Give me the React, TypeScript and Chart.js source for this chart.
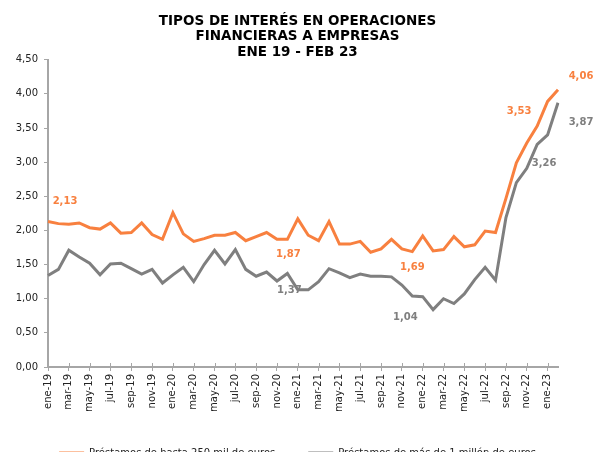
import React, { useEffect, useRef } from "react";
import { Chart, registerables } from "chart.js";

Chart.register(...registerables);

const categories: string[] = [
  "ene-19", "feb-19", "mar-19", "abr-19", "may-19", "jun-19", "jul-19", "ago-19", "sep-19", "oct-19", "nov-19", "dic-19",
  "ene-20", "feb-20", "mar-20", "abr-20", "may-20", "jun-20", "jul-20", "ago-20", "sep-20", "oct-20", "nov-20", "dic-20",
  "ene-21", "feb-21", "mar-21", "abr-21", "may-21", "jun-21", "jul-21", "ago-21", "sep-21", "oct-21", "nov-21", "dic-21",
  "ene-22", "feb-22", "mar-22", "abr-22", "may-22", "jun-22", "jul-22", "ago-22", "sep-22", "oct-22", "nov-22", "dic-22",
  "ene-23", "feb-23",
];

const smallLoans: number[] = [
  2.13, 2.10, 2.09, 2.11, 2.04, 2.02, 2.11, 1.96, 1.97, 2.11,
  1.94, 1.87, 2.26, 1.95, 1.84, 1.88, 1.93, 1.93, 1.97, 1.85,
  1.91, 1.97, 1.87, 1.87, 2.17, 1.93, 1.85, 2.13, 1.80, 1.80,
  1.84, 1.68, 1.73, 1.87, 1.73, 1.69, 1.92, 1.70, 1.72, 1.91,
  1.76, 1.79, 1.99, 1.97, 2.47, 2.99, 3.28, 3.53, 3.89, 4.06,
];

const largeLoans: number[] = [
  1.34, 1.43, 1.71, 1.61, 1.52, 1.35, 1.51, 1.52, 1.44, 1.36,
  1.43, 1.23, 1.35, 1.46, 1.25, 1.50, 1.71, 1.51, 1.72, 1.43,
  1.33, 1.39, 1.26, 1.37, 1.13, 1.13, 1.25, 1.44, 1.38, 1.31,
  1.36, 1.33, 1.33, 1.32, 1.20, 1.04, 1.03, 0.84, 1.00, 0.93,
  1.07, 1.28, 1.46, 1.27, 2.19, 2.70, 2.91, 3.26, 3.40, 3.87,
];

const seriesNames: string[] = [
  "Préstamos de hasta 250 mil de euros",
  "Préstamos de más de 1 millón de euros",
];

const titleLines: string[] = [
  "TIPOS DE INTERÉS EN OPERACIONES",
  "FINANCIERAS A EMPRESAS",
  "ENE 19 - FEB 23",
];

// which points get a value label: [dataset, index, dx, dy]
const labelledPoints: [number, number, number, number][] = [
  [0, 0, 17, -20],
  [0, 23, 1, 15],
  [0, 35, 0, 16],
  [0, 47, -18, -15],
  [0, 49, 23, -13],
  [1, 23, 2, 17],
  [1, 35, -7, 21],
  [1, 47, 7, 19],
  [1, 49, 23, 20],
];

const ORANGE = "#F8803F";
const GRAY = "#7F7F7F";
const AXIS = "#A6A6A6";
const FONT = "'DejaVu Sans', Verdana, sans-serif";

const fmt = (v: number) => v.toFixed(2).replace(".", ",");

const valueLabels = {
  id: "valueLabels",
  afterDatasetsDraw(chart: any) {
    const ctx = chart.ctx;
    ctx.save();
    ctx.font = `bold 10px ${FONT}`;
    ctx.textAlign = "center";
    ctx.textBaseline = "middle";
    for (const [ds, i, dx, dy] of labelledPoints) {
      const meta = chart.getDatasetMeta(ds);
      const el = meta.data[i];
      const v = chart.data.datasets[ds].data[i] as number;
      ctx.fillStyle = chart.data.datasets[ds].borderColor;
      ctx.fillText(fmt(v), el.x + dx, el.y + dy);
    }
    ctx.restore();
  },
};

const crossTicks = {
  id: "crossTicks",
  afterDraw(chart: any) {
    const x = chart.scales.x;
    const ctx = chart.ctx;
    ctx.save();
    ctx.strokeStyle = AXIS;
    ctx.lineWidth = 1;
    const yb = chart.chartArea.bottom;
    for (let i = 0; i < categories.length; i += 2) {
      const px = Math.round(x.getPixelForValue(i)) + 0.5;
      ctx.beginPath();
      ctx.moveTo(px, yb - 4);
      ctx.lineTo(px, yb);
      ctx.stroke();
    }
    ctx.restore();
  },
};

export default function App() {
  const ref = useRef<HTMLCanvasElement | null>(null);

  useEffect(() => {
    if (!ref.current) return;
    const chart = new Chart(ref.current, {
      type: "line",
      data: {
        labels: categories,
        datasets: [
          {
            label: seriesNames[0],
            data: smallLoans,
            borderColor: ORANGE,
            backgroundColor: ORANGE,
            borderWidth: 3,
            pointRadius: 0,
            tension: 0,
          },
          {
            label: seriesNames[1],
            data: largeLoans,
            borderColor: GRAY,
            backgroundColor: GRAY,
            borderWidth: 3,
            pointRadius: 0,
            tension: 0,
          },
        ],
      },
      options: {
        responsive: false,
        animation: false,
        layout: { padding: 0 },
        plugins: {
          title: {
            display: true,
            text: titleLines,
            color: "#000",
            font: { family: FONT, size: 13.5, weight: "bold", lineHeight: 1.13 },
            padding: { top: 14, bottom: 0 },
          },
          legend: {
            display: true,
            position: "bottom",
            align: "center",
            labels: {
              usePointStyle: true,
              pointStyle: "line",
              pointStyleWidth: 25,
              padding: 33,
              color: "#222",
              font: { family: FONT, size: 10 },
            },
          },
          tooltip: { enabled: false },
        },
        scales: {
          x: {
            offset: false,
            afterFit: (s: any) => {
              s.height = 48;
            },
            grid: {
              drawOnChartArea: false,
              drawTicks: true,
              tickLength: 4,
              color: AXIS,
            },
            border: { display: true, color: AXIS, width: 2 },
            ticks: {
              autoSkip: false,
              maxRotation: 90,
              minRotation: 90,
              padding: 3,
              color: "#222",
              font: { family: FONT, size: 10 },
              callback: (_v: any, i: number) => (i % 2 === 0 ? categories[i] : null),
            },
          },
          y: {
            position: "left",
            min: 0,
            max: 4.5,
            afterFit: (s: any) => {
              s.width = 48;
            },
            grid: {
              drawOnChartArea: false,
              drawTicks: true,
              tickLength: 4,
              color: AXIS,
            },
            border: { display: true, color: AXIS, width: 2 },
            ticks: {
              stepSize: 0.5,
              padding: 6,
              color: "#222",
              font: { family: FONT, size: 10 },
              callback: (v: any) => fmt(Number(v)),
            },
          },
          y2: {
            position: "right",
            display: true,
            afterFit: (s: any) => {
              s.width = 37;
            },
            grid: { display: false, drawTicks: false },
            border: { display: false },
            ticks: { display: false },
          },
        },
      },
      plugins: [valueLabels, crossTicks],
    });
    return () => chart.destroy();
  }, []);

  return (
    <div style={{ position: "absolute", left: 0, top: 0, width: 595, height: 468 }}>
      <canvas ref={ref} width={595} height={468} style={{ display: "block" }} />
    </div>
  );
}
